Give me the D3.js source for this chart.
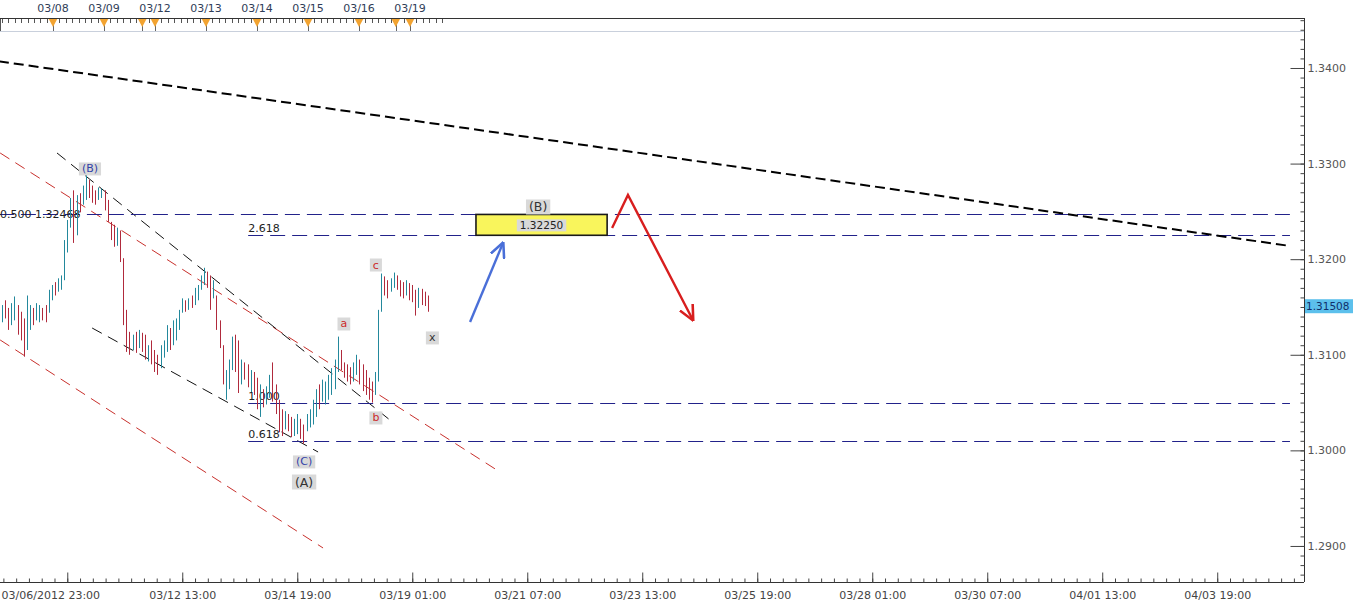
<!DOCTYPE html>
<html>
<head>
<meta charset="utf-8">
<script src="https://cdn.jsdelivr.net/npm/d3@7"></script>
<style>
	body { margin: 0; background: #fff; }
	svg { display: block; font-family: "DejaVu Sans", Verdana, sans-serif; }
</style>
</head>
<body>
<svg id="chart" width="1360" height="608"></svg>
<script>
// hourly-ish bars, one slot each (slot 0 = first bar on the left)
const barHigh = [
	1.3152,1.3157,1.3149,1.3154,1.3161,1.3152,1.3145,1.3138,1.3162,1.3152,
	1.3149,1.3154,1.3152,1.3149,1.3152,1.3168,1.3173,1.3176,1.3180,1.3183,
	1.3220,1.3241,1.3264,1.3272,1.3267,1.3269,1.3277,1.3288,1.3283,1.3277,
	1.3272,1.3275,1.3274,1.3272,1.3262,1.3239,1.3236,1.3233,1.3230,1.3201,
	1.3147,1.3124,1.3121,1.3124,1.3126,1.3123,1.3121,1.3110,1.3115,1.3105,
	1.3100,1.3110,1.3115,1.3131,1.3128,1.3136,1.3138,1.3147,1.3159,1.3157,
	1.3159,1.3162,1.3170,1.3173,1.3183,1.3191,1.3187,1.3183,1.3178,1.3162,
	1.3136,1.3110,1.3084,1.3095,1.3119,1.3121,1.3115,1.3095,1.3092,1.3090,
	1.3084,1.3082,1.3076,1.3069,1.3064,1.3067,1.3079,1.3092,1.3069,1.3053,
	1.3043,1.3041,1.3038,1.3035,1.3033,1.3038,1.3033,1.3027,1.3038,1.3043,
	1.3053,1.3064,1.3069,1.3074,1.3072,1.3079,1.3086,1.3095,1.3119,1.3105,
	1.3092,1.3090,1.3087,1.3092,1.3100,1.3095,1.3090,1.3084,1.3076,1.3072,
	1.3082,1.3147,1.3185,1.3182,1.3178,1.3180,1.3186,1.3183,1.3178,1.3176,
	1.3178,1.3175,1.3173,1.3168,1.3170,1.3169,1.3166,1.3162
];
const barLow = [
	1.3134,1.3138,1.3126,1.3131,1.3136,1.3121,1.3115,1.3098,1.3105,1.3126,
	1.3131,1.3136,1.3134,1.3136,1.3134,1.3144,1.3157,1.3162,1.3166,1.3168,
	1.3178,1.3207,1.3233,1.3217,1.3225,1.3249,1.3257,1.3262,1.3264,1.3259,
	1.3257,1.3262,1.3264,1.3251,1.3239,1.3220,1.3213,1.3214,1.3197,1.3131,
	1.3103,1.3100,1.3105,1.3102,1.3107,1.3103,1.3095,1.3093,1.3090,1.3082,
	1.3079,1.3086,1.3097,1.3103,1.3105,1.3110,1.3115,1.3126,1.3144,1.3145,
	1.3147,1.3149,1.3152,1.3157,1.3168,1.3173,1.3170,1.3147,1.3159,1.3126,
	1.3107,1.3069,1.3053,1.3064,1.3084,1.3082,1.3060,1.3069,1.3074,1.3066,
	1.3061,1.3058,1.3043,1.3035,1.3045,1.3048,1.3055,1.3051,1.3038,1.3019,
	1.3015,1.3022,1.3020,1.3014,1.3015,1.3017,1.3012,1.3007,1.3020,1.3024,
	1.3027,1.3035,1.3043,1.3051,1.3048,1.3053,1.3058,1.3064,1.3082,1.3084,
	1.3076,1.3072,1.3069,1.3072,1.3079,1.3069,1.3062,1.3058,1.3053,1.3050,
	1.3058,1.3072,1.3145,1.3162,1.3159,1.3166,1.3170,1.3168,1.3161,1.3159,
	1.3162,1.3157,1.3155,1.3141,1.3149,1.3152,1.3151,1.3145
];
// u = bar closed up, d = bar closed down
const barSide = "udduuddduu" + "duudduuduu" + "uuududuudd" + "duuddddudd" + "ddududdudd" +
	"duuuduuuud" + "uduuuuddud" + "dduuuddudd" + "udduduuddd" + "dudduudduu" +
	"uuduuuuuud" + "ddduuddddd" + "uuudduuddd" + "uddduddd";

const lastPrice = 1.31508;

const priceTicks = [1.29, 1.30, 1.31, 1.32, 1.33, 1.34];

const timeTickSlots = [21, 58, 95, 132, 169, 206, 243, 280, 317, 354, 391];
const timeTickLabels = ["03/06/2012 23:00", "03/12 13:00", "03/14 19:00", "03/19 01:00", "03/21 07:00",
	"03/23 13:00", "03/25 19:00", "03/28 01:00", "03/30 07:00", "04/01 13:00", "04/03 19:00"];

const rulerDays = ["03/08", "03/09", "03/12", "03/13", "03/14", "03/15", "03/16", "03/19"];
const rulerEvents = [0, 1, 1.75, 2, 3, 4, 5, 6, 6.72, 7];

// fibonacci levels: ratio, price, first slot
const fibRatios = ["0.500", "2.618", "1.000", "0.618"];
const fibPrices = [1.32468, 1.32250, 1.30500, 1.30100];
const fibStart = [-1, 79.2, 79.2, 79.2];

// trend / channel lines, [slot, price] pairs
const mainTrend = [[-1, 1.34070], [414, 1.32140]];
const blackUpper = [[17.7, 1.33111], [124.8, 1.30318]];
const blackLower = [[29.0, 1.31280], [101.7, 1.29983]];
const redUpper = [[-0.6, 1.33111], [160.2, 1.29774]];
const redLower = [[-0.6, 1.31155], [103.3, 1.28979]];

const waveText = ["(B)", "(C)", "(A)", "a", "b", "c", "x", "(B)"];
const waveSlot = [28.3, 97.2, 97.2, 110.0, 120.3, 120.3, 138.4, 172.5];
const wavePrice = [1.32944, 1.29879, 1.29669, 1.31322, 1.30339, 1.31939, 1.31176, 1.32546];
const waveKind = ["blue", "blue", "dark", "red", "red", "red", "dark", "dark"];

const targetSlots = [152.5, 194.7];
const targetPrice = 1.32250;

const blueArrow = [[150.6, 1.31343], [161.2, 1.32169]];
const redArrow = [[196.3, 1.32326], [201.4, 1.32672], [222.3, 1.31364]];

var plot = { left: 0, right: 1304, top: 18, bottom: 582 };

var svg = d3.select("#chart");

var x = d3.scaleLinear().domain([0, 418]).range([2, 2 + 418 * 3.108]),
	y = d3.scaleLinear().domain([1.28623, 1.34523]).range([plot.bottom, plot.top]),
	rx = d3.scaleLinear().domain([0, 7]).range([53, 410]);

var px = v => Math.round(v) + 0.5;

var defs = svg.append("defs");
defs.append("clipPath").attr("id", "plotClip")
	.append("rect")
		.attr("x", plot.left)
		.attr("y", plot.top)
		.attr("width", plot.right - plot.left)
		.attr("height", plot.bottom - plot.top);

function head(id, color) {
	defs.append("marker")
		.attr("id", id)
		.attr("viewBox", "0 0 10 10")
		.attr("refX", 9)
		.attr("refY", 5)
		.attr("markerWidth", 16)
		.attr("markerHeight", 16)
		.attr("markerUnits", "userSpaceOnUse")
		.attr("orient", "auto")
		.append("path")
			.attr("d", "M0,0.5 L9.5,5 L0,9.5")
			.attr("fill", "none")
			.attr("stroke", color)
			.attr("stroke-width", 1.6);
}
head("headBlue", "#4a6fd8");
head("headRed", "#d81e1e");

// ---- top event ruler
var ruler = svg.append("g").attr("class", "ruler");
ruler.append("line")
	.attr("x1", 0).attr("x2", plot.right)
	.attr("y1", 31.5).attr("y2", 31.5)
	.attr("stroke", "#c9d0dc");
ruler.append("line")
	.attr("x1", 0.5).attr("x2", 0.5)
	.attr("y1", 18).attr("y2", 31)
	.attr("stroke", "#555");
ruler.selectAll(".rtick")
	.data(d3.range(-8, 63).map(k => rx(k / 8)).filter(v => v > 1 && v < 448))
	.enter().append("line")
	.attr("class", "rtick")
	.attr("x1", d => px(d)).attr("x2", d => px(d))
	.attr("y1", 18).attr("y2", 23)
	.attr("stroke", "#555");
ruler.selectAll(".event")
	.data(rulerEvents)
	.enter().append("line")
	.attr("x1", d => px(rx(d))).attr("x2", d => px(rx(d)))
	.attr("y1", 22).attr("y2", 31)
	.attr("stroke", "#666");
ruler.selectAll(".tri")
	.data(rulerEvents)
	.enter().append("path")
	.attr("d", d => `M${rx(d) - 4.5},18.5 L${rx(d) + 4.5},18.5 L${rx(d)},27 Z`)
	.attr("fill", "#f2a330");
ruler.selectAll(".day")
	.data(rulerDays)
	.enter().append("text")
	.attr("x", (d, i) => rx(i))
	.attr("y", 12)
	.attr("text-anchor", "middle")
	.attr("font-size", "11px")
	.attr("fill", "#2f3d58")
	.text(d => d);

// ---- frame
svg.append("line")
	.attr("x1", 0).attr("x2", plot.right)
	.attr("y1", plot.top + 0.5).attr("y2", plot.top + 0.5)
	.attr("stroke", "#333");
svg.append("line")
	.attr("x1", 0).attr("x2", plot.right)
	.attr("y1", plot.bottom + 0.5).attr("y2", plot.bottom + 0.5)
	.attr("stroke", "#333");
svg.append("line")
	.attr("x1", plot.right + 0.5).attr("x2", plot.right + 0.5)
	.attr("y1", plot.top).attr("y2", plot.bottom)
	.attr("stroke", "#333");

// ---- right price axis
var yMinor = svg.append("g")
	.attr("transform", `translate(${plot.right + 0.5}, 0)`)
	.call(d3.axisRight(y)
		.tickValues(d3.range(1287, 1346).map(v => v / 1000))
		.tickSizeInner(-4).tickSizeOuter(0).tickFormat(""));
var yMajor = svg.append("g")
	.attr("transform", `translate(${plot.right + 0.5}, 0)`)
	.call(d3.axisRight(y)
		.tickValues(priceTicks)
		.tickSizeInner(-14).tickSizeOuter(0).tickPadding(3)
		.tickFormat(d3.format(".4f")));
svg.selectAll(".domain").remove();
yMajor.selectAll("text")
	.attr("font-family", "DejaVu Sans, sans-serif")
	.attr("font-size", "11px")
	.attr("fill", "#555");
svg.selectAll(".tick line").attr("stroke", "#444");

// ---- bottom time axis
var xMinor = svg.append("g")
	.attr("transform", `translate(0, ${plot.bottom + 0.5})`)
	.call(d3.axisBottom(x)
		.tickValues(d3.range(21 - 37, 418, 37 / 9).filter(v => x(v) > 0))
		.tickSizeInner(-4).tickSizeOuter(0).tickFormat(""));
var xMajor = svg.append("g")
	.attr("transform", `translate(0, ${plot.bottom + 0.5})`)
	.call(d3.axisBottom(x)
		.tickValues(timeTickSlots)
		.tickSizeInner(-10).tickSizeOuter(0).tickPadding(9)
		.tickFormat((d, i) => timeTickLabels[i]));
svg.selectAll(".domain").remove();
xMajor.selectAll("text")
	.attr("font-family", "DejaVu Sans, sans-serif")
	.attr("font-size", "11px")
	.attr("fill", "#444");
// first label is pushed in so it does not fall off the left edge
xMajor.select(".tick text").attr("text-anchor", "start").attr("x", -x(timeTickSlots[0]) + 1);
svg.selectAll(".tick line").attr("stroke", "#444");

// ---- drawing layer
var layer = svg.append("g").attr("clip-path", "url(#plotClip)");
var line = d3.line().x(d => x(d[0])).y(d => y(d[1]));

layer.append("path").datum(redUpper).attr("d", line)
	.attr("fill", "none").attr("stroke", "#c8302c").attr("stroke-width", 1).attr("stroke-dasharray", "11,7");
layer.append("path").datum(redLower).attr("d", line)
	.attr("fill", "none").attr("stroke", "#c8302c").attr("stroke-width", 1).attr("stroke-dasharray", "11,7");
layer.append("path").datum(blackUpper).attr("d", line)
	.attr("fill", "none").attr("stroke", "#111").attr("stroke-width", 1).attr("stroke-dasharray", "11,7");
layer.append("path").datum(blackLower).attr("d", line)
	.attr("fill", "none").attr("stroke", "#111").attr("stroke-width", 1).attr("stroke-dasharray", "11,7");

var fib = layer.selectAll(".fib")
	.data(fibPrices)
	.enter().append("g")
	.attr("class", "fib");
fib.append("line")
	.attr("x1", (d, i) => x(fibStart[i]))
	.attr("x2", x(414.4))
	.attr("y1", d => px(y(d))).attr("y2", d => px(y(d)))
	.attr("stroke", "#22228a")
	.attr("stroke-width", 1.2)
	.attr("stroke-dasharray", "15,7");
fib.append("text")
	.attr("x", (d, i) => Math.max(0, x(fibStart[i])))
	.attr("y", (d, i) => y(d) + (i == 0 ? 4 : -3))
	.attr("font-size", "11px")
	.attr("fill", "#222")
	.text((d, i) => i == 0 ? `${fibRatios[i]} ${d3.format(".5f")(d)}` : fibRatios[i]);

layer.append("path").datum(mainTrend).attr("d", line)
	.attr("fill", "none").attr("stroke", "#000").attr("stroke-width", 2).attr("stroke-dasharray", "10,5");

// bars
var bars = barHigh.map((h, i) => ({ slot: i, high: h, low: barLow[i], up: barSide[i] == "u" }));
layer.selectAll(".bar")
	.data(bars)
	.enter().append("line")
	.attr("class", "bar")
	.attr("x1", d => px(x(d.slot))).attr("x2", d => px(x(d.slot)))
	.attr("y1", d => y(d.high)).attr("y2", d => y(d.low))
	.attr("stroke", d => d.up ? "#23889c" : "#b02a3c")
	.attr("stroke-width", 1);

// target zone
layer.append("rect")
	.attr("x", x(targetSlots[0]))
	.attr("y", y(fibPrices[0]))
	.attr("width", x(targetSlots[1]) - x(targetSlots[0]))
	.attr("height", y(targetPrice) - y(fibPrices[0]))
	.attr("fill", "#f9f55c")
	.attr("stroke", "#1a1a1a")
	.attr("stroke-width", 1.6);

function tag(g, text, cx, cy, color, size) {
	let t = g.append("text")
		.attr("x", cx).attr("y", cy)
		.attr("text-anchor", "middle")
		.attr("dominant-baseline", "central")
		.attr("font-size", size)
		.attr("fill", color)
		.text(text);
	let b = t.node().getBBox();
	g.insert("rect", () => t.node())
		.attr("x", b.x - 3).attr("y", b.y)
		.attr("width", b.width + 6).attr("height", b.height)
		.attr("fill", "#d9d9d9");
}

var tagColor = { blue: "#3342a8", red: "#cc2a2a", dark: "#333" };
waveText.forEach((t, i) => {
	tag(layer.append("g"), t, x(waveSlot[i]), y(wavePrice[i]), tagColor[waveKind[i]],
		t == "(A)" || i == 7 ? "12.5px" : "11px");
});
tag(layer.append("g"), d3.format(".5f")(targetPrice), x(d3.mean(targetSlots)), (y(fibPrices[0]) + y(targetPrice)) / 2 + 0.5, "#222", "10.5px");

// forecast arrows
layer.append("path").datum(blueArrow).attr("d", line)
	.attr("fill", "none").attr("stroke", "#4a6fd8").attr("stroke-width", 2.4)
	.attr("marker-end", "url(#headBlue)");
layer.append("path").datum(redArrow).attr("d", line)
	.attr("fill", "none").attr("stroke", "#d81e1e").attr("stroke-width", 2.4)
	.attr("stroke-linejoin", "miter")
	.attr("marker-end", "url(#headRed)");

// current price flag
var flag = svg.append("g");
flag.append("rect")
	.attr("x", plot.right + 1)
	.attr("y", y(lastPrice) - 7)
	.attr("width", 48)
	.attr("height", 14)
	.attr("fill", "#5cc0ec");
flag.append("text")
	.attr("x", plot.right + 2)
	.attr("y", y(lastPrice))
	.attr("dy", "0.35em")
	.attr("font-size", "10.5px")
	.attr("fill", "#0f2f6a")
	.text(d3.format(".5f")(lastPrice));
</script>
</body>
</html>
